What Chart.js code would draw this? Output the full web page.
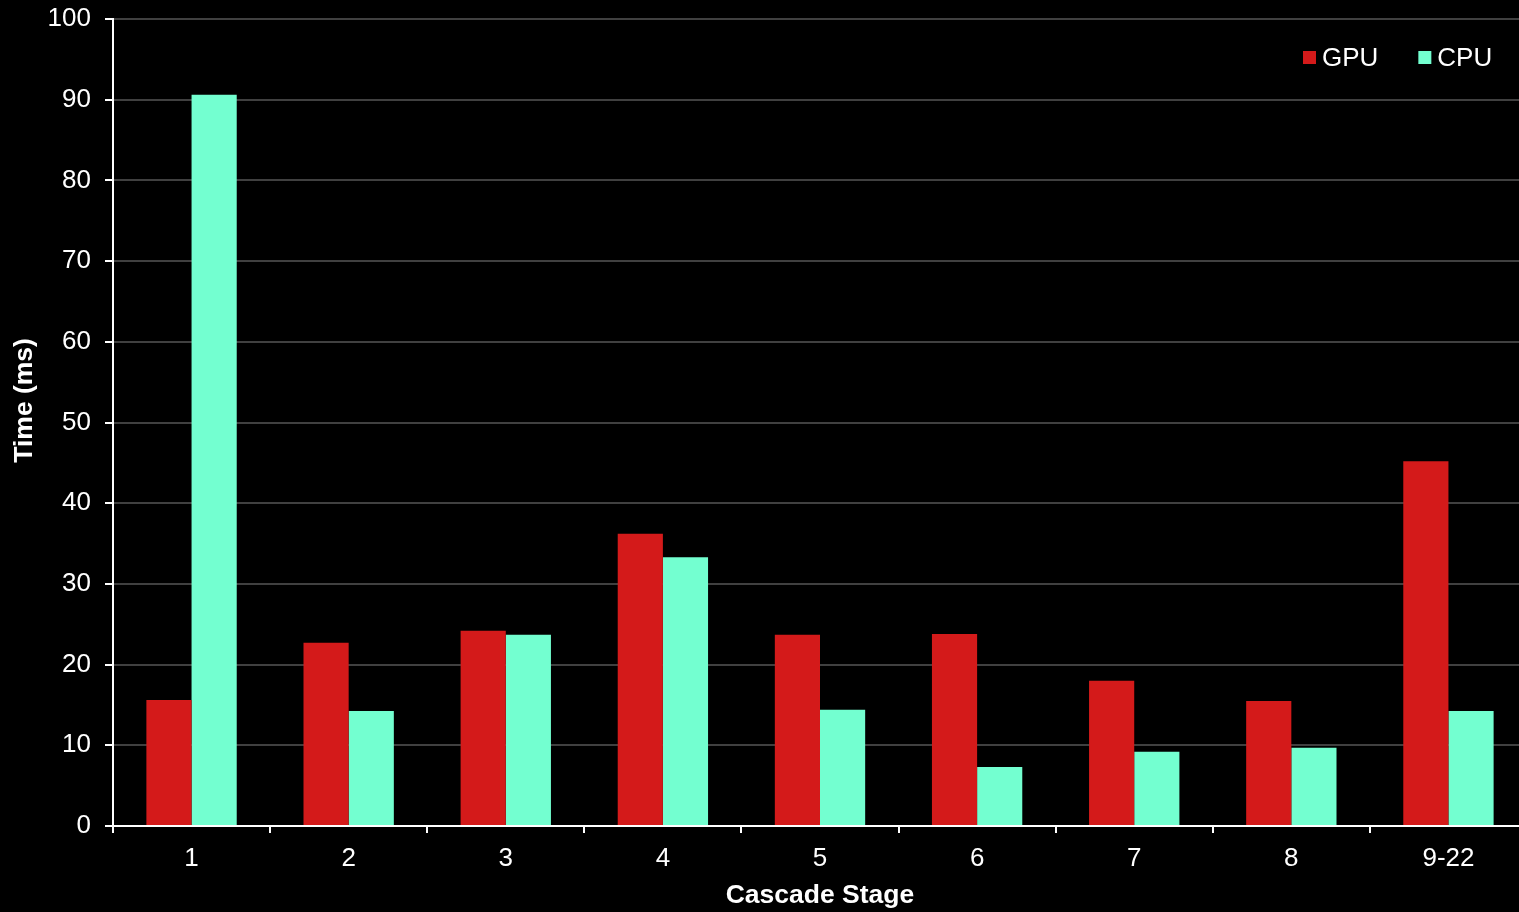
<!DOCTYPE html>
<html>
<head>
<meta charset="utf-8">
<script src="https://cdn.jsdelivr.net/npm/chart.js@4.4.1/dist/chart.umd.min.js"></script>
<style>
  html, body { margin: 0; padding: 0; background: #000; overflow: hidden; }
  #wrap { position: absolute; left: 0; top: 0; width: 1527px; height: 912px; }
</style>
</head>
<body>
<div id="wrap"><canvas id="c"></canvas></div>
<script>
const categories = ['1', '2', '3', '4', '5', '6', '7', '8', '9-22'];
const gpuTimes = [15.6, 22.7, 24.2, 36.2, 23.7, 23.8, 18.0, 15.5, 45.2];
const cpuTimes = [90.6, 14.25, 23.7, 33.3, 14.4, 7.3, 9.2, 9.7, 14.25];
const seriesNames = ['GPU', 'CPU'];
const seriesColors = ['#D41A1A', '#73FFD0'];
const yTicksMax = 100;
const yTickStep = 10;

const FONT = '"Liberation Sans", Arial, sans-serif';

const legendPlugin = {
  id: 'customLegend',
  afterDraw(chart) {
    const ctx = chart.ctx;
    ctx.save();
    ctx.font = '26px ' + FONT;
    ctx.textBaseline = 'middle';
    ctx.textAlign = 'left';
    let x = 1303;
    const y = 58;
    chart.data.datasets.forEach((ds) => {
      ctx.fillStyle = ds.backgroundColor;
      ctx.fillRect(x, y - 7, 13, 13);
      x += 19;
      ctx.fillStyle = '#fff';
      ctx.fillText(ds.label, x, y + 1);
      x += ctx.measureText(ds.label).width + 40;
    });
    ctx.restore();
  }
};

new Chart(document.getElementById('c'), {
  type: 'bar',
  data: {
    labels: categories,
    datasets: [
      { label: seriesNames[0], data: gpuTimes, backgroundColor: seriesColors[0], borderWidth: 0 },
      { label: seriesNames[1], data: cpuTimes, backgroundColor: seriesColors[1], borderWidth: 0 }
    ]
  },
  options: {
    responsive: true,
    maintainAspectRatio: false,
    animation: false,
    datasets: { bar: { barPercentage: 1, categoryPercentage: 0.575 } },
    layout: { padding: { top: 19, right: 0, bottom: 0, left: 0 } },
    plugins: { legend: { display: false }, tooltip: { enabled: false } },
    scales: {
      x: {
        grid: { display: true, drawOnChartArea: false, drawTicks: true, tickLength: 7, color: '#fff', lineWidth: 2, offset: true },
        border: { color: '#fff', width: 2 },
        ticks: { color: '#fff', font: { family: FONT, size: 26 }, padding: 10, maxRotation: 0 },
        title: { display: true, text: 'Cascade Stage', color: '#fff', font: { family: FONT, size: 26.5, weight: 'bold' }, padding: { top: 0, bottom: 0 } },
        afterFit(scale) { scale.height = 86; scale.paddingLeft = 0; scale.paddingRight = 0; }
      },
      y: {
        min: 0, max: yTicksMax,
        grid: { color: '#404040', lineWidth: 2, tickLength: 8, tickColor: '#fff', tickWidth: 2 },
        border: { color: '#fff', width: 2 },
        ticks: { stepSize: yTickStep, color: '#fff', font: { family: FONT, size: 26 }, padding: 14 },
        title: { display: true, text: '      Time (ms)', color: '#fff', font: { family: FONT, size: 26.5, weight: 'bold' }, padding: { top: 9, bottom: 0 } },
        afterFit(scale) { scale.width = 113; scale.paddingTop = 0; scale.paddingBottom = 0; }
      }
    }
  },
  plugins: [legendPlugin]
});
</script>
</body>
</html>
